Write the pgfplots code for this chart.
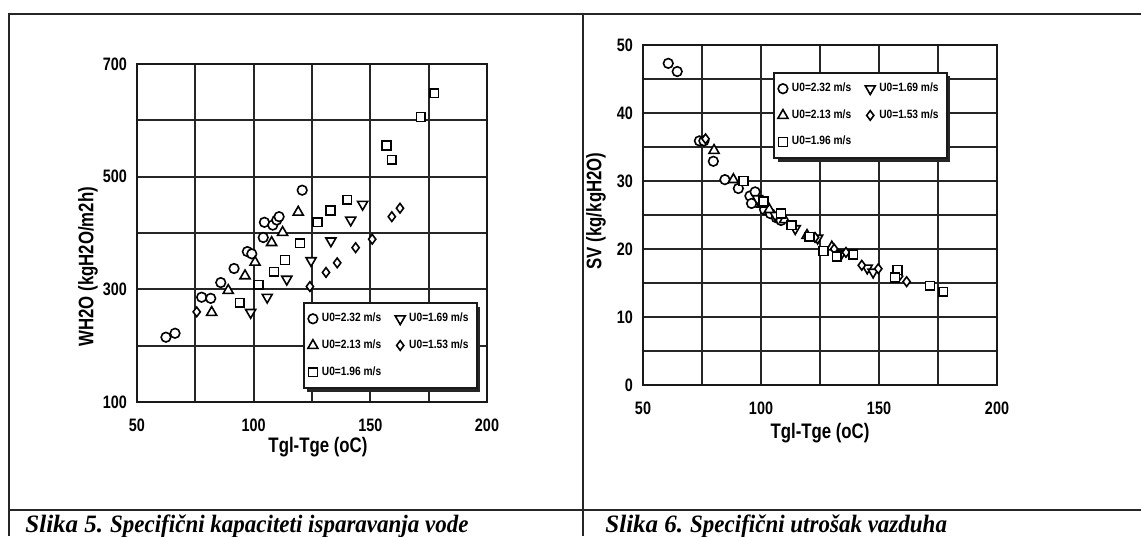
\documentclass[border=0pt]{standalone}
\usepackage{fontspec}
\setmainfont{Liberation Sans}
\newfontfamily\nsans[FakeStretch=0.8]{Liberation Sans}
\newfontfamily\lsans[FakeStretch=0.85]{Liberation Sans}
\newfontfamily\capserif{Liberation Serif}
\newfontfamily\capserifn[FakeStretch=0.92]{Liberation Serif}
\usepackage{pgfplots}
\pgfplotsset{compat=1.18}
\usetikzlibrary{shadows}
\frenchspacing
\pgfplotsset{
  myaxis/.style={
    scale only axis, anchor=south west,
    xmin=50, xmax=200,
    xtick={50,100,150,200}, minor xtick={75,125,175},
    grid=both,
    major grid style={line width=0.95pt, black!85},
    minor grid style={line width=0.95pt, black!85},
    axis line style={line width=1.4pt, black!90},
    major tick length=0pt, minor tick length=0pt,
    tick label style={font=\nsans\bfseries\fontsize{9}{10}\selectfont},
    xticklabel style={yshift=-5pt},
    yticklabel style={xshift=-1.5pt},
    /pgf/number format/assume math mode=true,
    label style={font=\nsans\bfseries\fontsize{10.5}{12}\selectfont},
    legend cell align=left,
    legend columns=2,
    legend style={draw=black!90, line width=1pt, fill=white,
      font=\lsans\bfseries\fontsize{6}{7}\selectfont,
      row sep=3.5pt, inner xsep=2pt, inner ysep=3pt,
      drop shadow={shadow xshift=1.8pt, shadow yshift=-1.8pt, fill=black!85, opacity=1},
      /tikz/every even column/.append style={column sep=5pt}},
    legend image code/.code={\draw[mark repeat=2,mark phase=2,#1] plot coordinates {(0cm,0cm) (0.1cm,0cm) (0.2cm,0cm)};},
  },
  mbase/.style={only marks, black, mark options={solid, draw=black, line width=0.8pt, fill=white}},
  mc/.style={mbase, mark=*, mark size=2.4pt},
  mtd/.style={mbase, mark=triangle*, mark size=2.9pt, every mark/.append style={rotate=180}},
  mtu/.style={mbase, mark=triangle*, mark size=2.9pt},
  md/.style={mbase, mark=diamond*, mark size=2.4pt},
  ms/.style={mbase, mark=square*, mark size=2.2pt},
}
\begin{document}
\begin{tikzpicture}
\path[use as bounding box] (0pt,0pt) rectangle (570.5pt,268pt);
% table frame
\draw[line width=1.1pt, black!85] (4.5pt,0pt) -- (4.5pt,261pt) -- (570.5pt,261pt);
\draw[line width=1.1pt, black!85] (291.5pt,0pt) -- (291.5pt,261pt);
\draw[line width=1.3pt, black!85] (4.5pt,13pt) -- (570.5pt,13pt);
\node[anchor=base west, inner sep=0] at (12.5pt,2pt) {\fontsize{12.5}{14}\selectfont{\capserif\bfseries\itshape Slika 5.} {\capserifn\bfseries\itshape Specifični kapaciteti isparavanja vode}};
\node[anchor=base west, inner sep=0] at (302.5pt,2pt) {\fontsize{12.5}{14}\selectfont{\capserif\bfseries\itshape Slika 6.} {\capserifn\bfseries\itshape Specifični utrošak vazduha}};

% ---------- left chart
\begin{axis}[myaxis, at={(68.5pt,67pt)}, width=175pt, height=169pt,
  ymin=100, ymax=700, ytick={100,300,500,700}, minor ytick={200,400,600},
  xlabel={Tgl-Tge (oC)}, ylabel={WH2O (kgH2O/m2h)},
  xlabel style={at={(axis description cs:0.517,-0.133)}, anchor=center},
  ylabel style={at={(axis description cs:-0.14,0.40)}, anchor=center},
  legend style={at={(0.474,0.296)}, anchor=north west},
]
\addplot[mc] coordinates {(62.4,215) (66.3,222) (77.7,286) (81.6,284) (85.9,312) (91.6,337) (97.3,367) (99.2,363) (104.1,392) (104.6,419) (108.2,414) (109.9,423) (110.9,429) (120.8,476)};
\addlegendentry{U0=2.32 m/s}
\addplot[mtd] coordinates {(98.7,259) (105.8,286) (114.2,318) (124.6,351) (133.1,386) (141.6,423) (146.7,451)};
\addlegendentry{U0=1.69 m/s}
\addplot[mtu] coordinates {(82,259) (89.1,298) (96.3,324) (100.6,348) (107.7,383) (112.4,401) (119.1,437)};
\addlegendentry{U0=2.13 m/s}
\addplot[md] coordinates {(75.6,260) (124.1,305) (131,330) (135.8,347) (143.7,374) (150.8,389) (159.2,429) (162.7,444)};
\addlegendentry{U0=1.53 m/s}
\addplot[ms] coordinates {(94.1,276) (102,308) (108.7,331) (113.4,352) (119.9,382) (127.3,419) (133,440) (140.1,459) (157,555) (159.2,530) (171.6,606) (177.4,648)};
\addlegendentry{U0=1.96 m/s}
\end{axis}

% ---------- right chart
\begin{axis}[myaxis, at={(321.5pt,75.5pt)}, width=177pt, height=170pt,
  ymin=0, ymax=50, ytick={0,10,20,30,40,50}, minor ytick={5,15,25,35,45},
  xlabel={Tgl-Tge (oC)}, ylabel={SV (kg/kgH2O)},
  xlabel style={at={(axis description cs:0.5,-0.141)}, anchor=center},
  ylabel style={at={(axis description cs:-0.133,0.512)}, anchor=center},
  legend style={at={(0.367,0.921)}, anchor=north west},
]
\addplot[mc] coordinates {(60.7,47.3) (64.5,46.1) (73.9,35.9) (75.8,35.9) (79.8,32.9) (84.7,30.2) (90.4,28.9) (95.3,27.8) (96.0,26.7) (97.5,28.4) (101.5,25.8) (104,25.2) (106.5,24.6) (108.5,24.2)};
\addlegendentry{U0=2.32 m/s}
\addplot[mtd] coordinates {(98.5,27.4) (106,25.0) (114.5,23.0) (124,21.6) (134.2,19.4) (145,17.2) (147.5,16.6)};
\addlegendentry{U0=1.69 m/s}
\addplot[mtu] coordinates {(80.1,34.5) (88.3,30.2) (100.3,26.6) (103.5,25.8) (110,24.3) (119.5,22.0) (130,20.3)};
\addlegendentry{U0=2.13 m/s}
\addplot[md] coordinates {(76.5,36.2) (122.9,21.7) (131,20.0) (136,19.5) (142.7,17.6) (149.7,17.1) (158.5,16.0) (161.7,15.2)};
\addlegendentry{U0=1.53 m/s}
\addplot[ms] coordinates {(92.5,30.0) (101,27.0) (108.5,25.2) (113,23.5) (120.5,21.8) (126.4,19.7) (132.1,18.9) (139.1,19.2) (157.8,16.9) (156.8,15.8) (171.6,14.6) (177.2,13.7)};
\addlegendentry{U0=1.96 m/s}
\end{axis}
\end{tikzpicture}
\end{document}
